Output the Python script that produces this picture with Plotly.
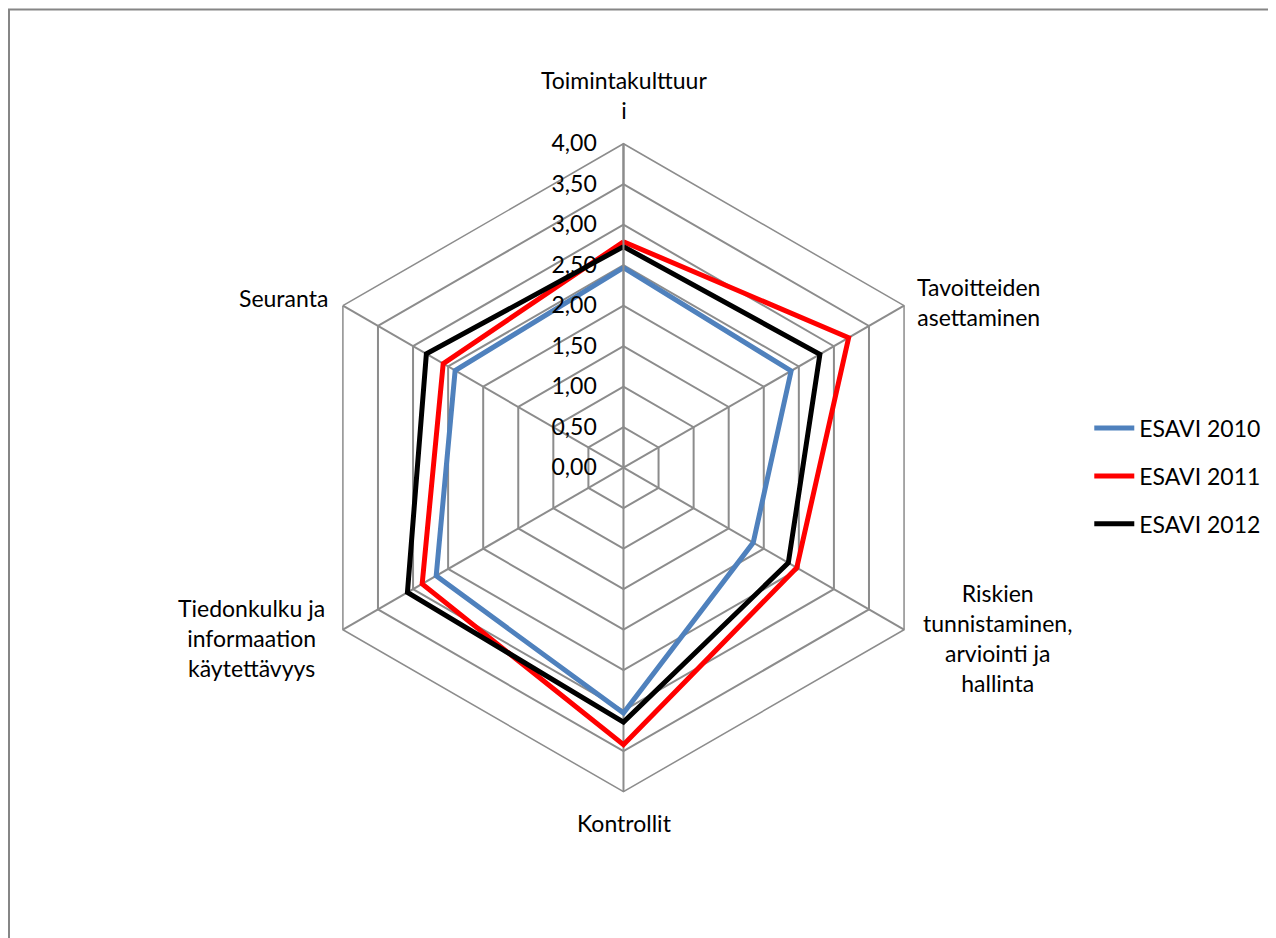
import plotly.graph_objects as go

# categories around the radar, clockwise from the top
categories = ["Toimintakulttuuri", "Tavoitteiden asettaminen",
              "Riskien tunnistaminen, arviointi ja hallinta",
              "Kontrollit", "Tiedonkulku ja informaation käytettävyys",
              "Seuranta"]
# the category labels as they are wrapped on the chart
labels = ["Toimintakulttuur<br>i", "Tavoitteiden<br>asettaminen",
          "Riskien<br>tunnistaminen,<br>arviointi ja<br>hallinta",
          "Kontrollit", "Tiedonkulku ja<br>informaation<br>käytettävyys",
          "Seuranta"]

esavi_2010 = [2.47, 2.39, 1.85, 3.03, 2.67, 2.40]
esavi_2011 = [2.79, 3.21, 2.47, 3.42, 2.87, 2.57]
esavi_2012 = [2.73, 2.80, 2.35, 3.14, 3.08, 2.81]

tick_vals = [0, 0.5, 1, 1.5, 2, 2.5, 3, 3.5, 4]
tick_text = ["0,00", "0,50", "1,00", "1,50", "2,00", "2,50", "3,00", "3,50", "4,00"]

series = [("ESAVI 2010", esavi_2010, "#4F81BD"),
          ("ESAVI 2011", esavi_2011, "#FF0000"),
          ("ESAVI 2012", esavi_2012, "#000000")]

GRID = "#8C8C8C"
FONT = "Lato"
PAD = "\u00a0" * 3  # pushes the radial labels away from the axis

fig = go.Figure()
for name, vals, col in series:
    # close the polygon by repeating the first point
    fig.add_trace(go.Scatterpolar(
        r=vals + vals[:1], theta=categories + categories[:1],
        mode="lines", name=name, legendgroup=name,
        line=dict(color=col, width=5)))

# category label placement (paper coords) and anchoring
label_pos = [(0.4828, 0.9072, "center"), (0.7108, 0.6866, "left"),
             (0.7751, 0.3284, "center"), (0.4828, 0.1311, "center"),
             (0.1912, 0.3284, "center"), (0.2524, 0.6908, "right")]
for text, (x, y, anchor) in zip(labels, label_pos):
    fig.add_annotation(text=text, x=x, y=y, xref="paper", yref="paper",
                       xanchor=anchor, yanchor="middle", align="center",
                       showarrow=False, font=dict(size=23))

fig.update_layout(
    width=1276, height=938,
    margin=dict(l=0, r=0, t=0, b=0),
    paper_bgcolor="white",
    font=dict(family=FONT, size=23, color="#000000"),
    polar=dict(
        domain=dict(x=[0.2284, 0.7363], y=[0.1645, 0.8553]),
        gridshape="linear",
        bgcolor="white",
        radialaxis=dict(range=[0, 4], tickvals=tick_vals,
                        ticktext=[t + PAD for t in tick_text],
                        angle=90, side="counterclockwise", tickangle=90,
                        showline=True, linecolor=GRID, linewidth=2,
                        gridcolor=GRID, gridwidth=1.5, ticks="",
                        tickfont=dict(size=23)),
        angularaxis=dict(rotation=90, direction="clockwise",
                         showline=True, linecolor=GRID, linewidth=1.5,
                         gridcolor=GRID, gridwidth=1.5, ticks="",
                         showticklabels=False),
    ),
    legend=dict(x=0.8474, y=0.501, xanchor="left", yanchor="middle",
                tracegroupgap=15, itemwidth=40,
                font=dict(size=23), bgcolor="rgba(0,0,0,0)"),
    shapes=[dict(type="rect", xref="paper", yref="paper",
                 x0=1 / 1276, x1=1.02, y0=-0.02, y1=1 - 1.5 / 938,
                 line=dict(color="#868686", width=2))],
)

fig.write_html("out.html")
